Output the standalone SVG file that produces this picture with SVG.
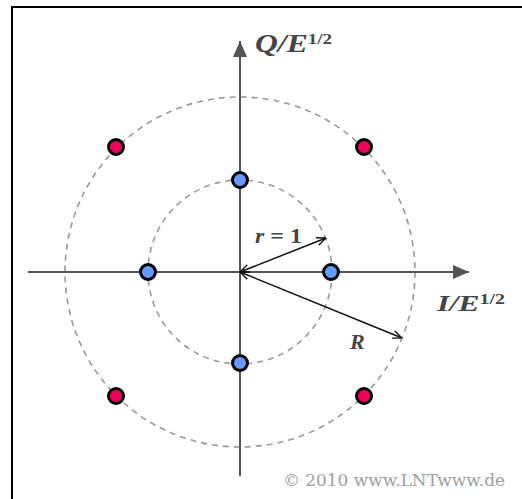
<svg xmlns="http://www.w3.org/2000/svg" width="522" height="499" viewBox="0 0 522 499">
<defs>
<style>
.axis{stroke:#555;stroke-width:2;fill:none}
.ring{stroke:#999;stroke-width:1.6;fill:none;stroke-dasharray:6 5}
.vec{stroke:#111;stroke-width:1.5;fill:none}
.blue{fill:#6699ff;stroke:#000;stroke-width:3}
.red{fill:#f0005e;stroke:#000;stroke-width:3}
.lbl{font-family:"Liberation Serif","Times New Roman",serif;font-weight:bold;font-style:italic;fill:#444}
.sup{font-style:normal;font-size:15px}
.copy{font-family:"DejaVu Serif","Liberation Serif",serif;fill:#a0a0a0;font-size:16px}
</style>
<marker id="ah" viewBox="0 0 16 14" refX="16" refY="7" markerWidth="16" markerHeight="14" markerUnits="userSpaceOnUse" orient="auto">
<path d="M0,0 L16,7 L0,14 Z" fill="#555"/>
</marker>
<marker id="vh" viewBox="0 0 10 10" refX="9.5" refY="5" markerWidth="10" markerHeight="10" markerUnits="userSpaceOnUse" orient="auto-start-reverse">
<path d="M0,1 L9.5,5 L0,9" fill="none" stroke="#111" stroke-width="1.4"/>
</marker>
</defs>
<rect x="0" y="0" width="522" height="499" fill="#fff"/>
<path d="M12,499 V7 H522" fill="none" stroke="#000" stroke-width="2"/>
<g id="rings">
<circle class="ring" cx="240" cy="272" r="92"/>
<circle class="ring" cx="240" cy="272" r="175"/>
</g>
<g id="connectors">
<line class="axis" x1="28" y1="272" x2="469" y2="272" marker-end="url(#ah)"/>
<line class="axis" x1="240" y1="476" x2="240" y2="41" marker-end="url(#ah)"/>
<line class="vec" x1="240" y1="272" x2="326" y2="238" marker-start="url(#vh)" marker-end="url(#vh)"/>
<line class="vec" x1="240" y1="272" x2="402" y2="338" marker-start="url(#vh)" marker-end="url(#vh)"/>
</g>
<g id="inner-points">
<circle class="blue" cx="240" cy="180" r="7.5"/>
<circle class="blue" cx="148" cy="272" r="7.5"/>
<circle class="blue" cx="331" cy="272" r="7.5"/>
<circle class="blue" cx="240" cy="363" r="7.5"/>
</g>
<g id="outer-points">
<circle class="red" cx="116" cy="147" r="7.5"/>
<circle class="red" cx="364" cy="147" r="7.5"/>
<circle class="red" cx="116" cy="396" r="7.5"/>
<circle class="red" cx="364" cy="396" r="7.5"/>
</g>
<g id="labels">
<text class="lbl" x="255" y="52" font-size="25" textLength="77" lengthAdjust="spacingAndGlyphs">Q/E<tspan class="sup" dy="-8">1/2</tspan></text>
<text class="lbl" x="437" y="311" font-size="24" textLength="68" lengthAdjust="spacingAndGlyphs">I/E<tspan class="sup" dy="-7">1/2</tspan></text>
<text class="lbl" x="255" y="243" font-size="20" textLength="47" lengthAdjust="spacingAndGlyphs">r<tspan font-style="normal"> = 1</tspan></text>
<text class="lbl" x="350" y="349" font-size="22">R</text>
<text class="copy" x="505" y="486" text-anchor="end" textLength="222" lengthAdjust="spacingAndGlyphs">© 2010 www.LNTwww.de</text>
</g>
</svg>
